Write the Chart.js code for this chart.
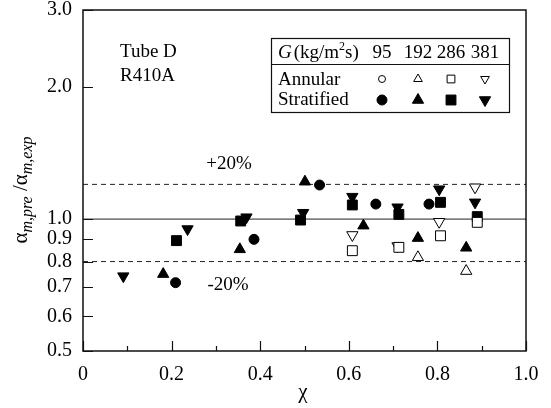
<!DOCTYPE html>
<html>
<head>
<meta charset="utf-8">
<script src="https://cdn.jsdelivr.net/npm/chart.js@4.4.0/dist/chart.umd.min.js"></script>
<style>
  html, body { margin: 0; padding: 0; background: #fff; }
  #wrap { width: 551px; height: 408px; }
</style>
</head>
<body>
<div id="wrap"><canvas id="chart" width="551" height="408"></canvas></div>
<script>
// ===== Data =====
const massFluxes = [95, 192, 286, 381];
const xTicks = [0, 0.1, 0.2, 0.3, 0.4, 0.5, 0.6, 0.7, 0.8, 0.9, 1.0];
const yTicks = [0.5, 0.6, 0.7, 0.8, 0.9, 1.0, 2.0, 3.0];
const refLevels = [1.2, 1.0, 0.8];

// stratified (filled)
const strat95X = [0.209, 0.386, 0.534, 0.661, 0.781];
const strat95Y = [0.716, 0.899, 1.196, 1.082, 1.082];
const strat192X = [0.181, 0.354, 0.501, 0.633, 0.756, 0.865];
const strat192Y = [0.749, 0.853, 1.217, 0.966, 0.905, 0.860];
const strat286X = [0.211, 0.356, 0.491, 0.608, 0.713, 0.807, 0.890];
const strat286Y = [0.893, 0.990, 0.995, 1.077, 1.025, 1.092, 1.013];
const strat381X = [0.091, 0.236, 0.369, 0.497, 0.608, 0.710, 0.804, 0.885];
const strat381Y = [0.741, 0.949, 1.010, 1.034, 1.125, 1.064, 1.170, 1.092];

// annular (open)
const ann95X = [];
const ann95Y = [];
const ann192X = [0.756, 0.865];
const ann192Y = [0.818, 0.761];
const ann286X = [0.608, 0.713, 0.807, 0.890];
const ann286Y = [0.847, 0.862, 0.916, 0.983];
const ann381X = [0.608, 0.710, 0.804, 0.885];
const ann381Y = [0.920, 0.868, 0.986, 1.182];

const serif = "'Liberation Serif', 'DejaVu Serif', serif";

const pts = (xs, ys) => xs.map((x, i) => ({ x: x, y: ys[i] }));

// marker styles per mass flux
const markers = [
  { pointStyle: 'circle', radius: 5, rotation: 0 },
  { pointStyle: 'triangle', radius: 6.5, rotation: 0 },
  { pointStyle: 'rect', radius: 7, rotation: 0 },
  { pointStyle: 'triangle', radius: 6.5, rotation: 180 }
];

function markerSet(label, data, m, filled) {
  return {
    type: 'scatter',
    label: label,
    data: data,
    pointStyle: m.pointStyle,
    pointRadius: m.radius,
    pointRotation: m.rotation,
    pointBackgroundColor: filled ? '#000' : '#fff',
    pointBorderColor: '#000',
    pointBorderWidth: 1,
    order: 0
  };
}

const annular = [pts(ann95X, ann95Y), pts(ann192X, ann192Y), pts(ann286X, ann286Y), pts(ann381X, ann381Y)];
const stratified = [pts(strat95X, strat95Y), pts(strat192X, strat192Y), pts(strat286X, strat286Y), pts(strat381X, strat381Y)];

const datasets = [];
refLevels.forEach(lvl => {
  datasets.push({
    type: 'line',
    label: 'ref ' + lvl,
    data: [{ x: 0, y: lvl }, { x: 1, y: lvl }],
    borderColor: '#222',
    borderWidth: 1,
    borderDash: lvl === 1.0 ? [] : [5, 4],
    pointRadius: 0,
    order: 10
  });
});
massFluxes.forEach((g, i) => {
  datasets.push(markerSet('Annular ' + g, annular[i], markers[i], false));
  datasets.push(markerSet('Stratified ' + g, stratified[i], markers[i], true));
});

// ===== Frame, inward ticks, texts, legend table =====
const decorPlugin = {
  id: 'decor',
  afterDraw(chart) {
    const { ctx, chartArea: a, scales: { x, y } } = chart;
    ctx.save();
    ctx.strokeStyle = '#111';
    ctx.lineWidth = 1.5;
    ctx.strokeRect(a.left, a.top, a.right - a.left, a.bottom - a.top);

    ctx.lineWidth = 1.2;
    ctx.beginPath();
    xTicks.forEach((v, i) => {
      const px = Math.round(x.getPixelForValue(v)) + 0.5;
      const len = i % 2 === 0 ? 10 : 5;
      ctx.moveTo(px, a.bottom);
      ctx.lineTo(px, a.bottom - len);
    });
    yTicks.forEach(v => {
      const py = Math.round(y.getPixelForValue(v)) + 0.5;
      ctx.moveTo(a.left, py);
      ctx.lineTo(a.left + 10, py);
    });
    ctx.stroke();

    ctx.fillStyle = '#000';
    ctx.textBaseline = 'alphabetic';
    ctx.textAlign = 'left';
    ctx.font = '19px ' + serif;
    ctx.fillText('Tube D', 120, 57);
    ctx.fillText('R410A', 120, 81);

    ctx.textAlign = 'center';
    ctx.fillText('+20%', 229, 169);
    ctx.fillText('-20%', 228, 290);

    ctx.font = '21px ' + serif;
    ctx.fillText('\u03c7', 303, 398);

    // y title with subscripts
    ctx.save();
    ctx.translate(27, 190);
    ctx.rotate(-Math.PI / 2);
    const parts = [
      { t: '\u03b1', f: '21px ' + serif, dy: 0 },
      { t: 'm,pre', f: 'italic 16px ' + serif, dy: 5 },
      { t: ' /\u03b1', f: '21px ' + serif, dy: 0 },
      { t: 'm,exp', f: 'italic 16px ' + serif, dy: 5 }
    ];
    let total = 0;
    parts.forEach(p => { ctx.font = p.f; p.w = ctx.measureText(p.t).width; total += p.w; });
    let cx = -total / 2;
    ctx.textAlign = 'left';
    parts.forEach(p => { ctx.font = p.f; ctx.fillText(p.t, cx, p.dy); cx += p.w; });
    ctx.restore();

    // legend table
    const bx = 271, by = 38, bw = 238, bh = 74;
    ctx.lineWidth = 1.2;
    ctx.strokeStyle = '#111';
    ctx.strokeRect(bx + 0.5, by + 0.5, bw, bh);
    ctx.beginPath();
    ctx.moveTo(bx, by + 26.5);
    ctx.lineTo(bx + bw, by + 26.5);
    ctx.stroke();

    ctx.textAlign = 'left';
    ctx.font = 'italic 19px ' + serif;
    ctx.fillText('G', 278, 58);
    let hx = 278 + ctx.measureText('G').width + 2;
    ctx.font = '19px ' + serif;
    ctx.fillText('(kg/m', hx, 58);
    hx += ctx.measureText('(kg/m').width;
    ctx.font = '12px ' + serif;
    ctx.fillText('2', hx, 50);
    hx += ctx.measureText('2').width;
    ctx.font = '19px ' + serif;
    ctx.fillText('s)', hx, 58);

    const colX = [382, 418, 451, 485];
    ctx.textAlign = 'center';
    massFluxes.forEach((g, i) => ctx.fillText(String(g), colX[i], 58));

    ctx.textAlign = 'left';
    ctx.fillText('Annular', 278, 85);
    ctx.fillText('Stratified', 278, 105);

    const smallR = [3.5, 5, 5.5, 5];
    massFluxes.forEach((g, i) => {
      const m = markers[i];
      ctx.lineWidth = 1;
      ctx.strokeStyle = '#000';
      ctx.fillStyle = '#fff';
      Chart.helpers.drawPoint(ctx, { pointStyle: m.pointStyle, radius: smallR[i], rotation: m.rotation, borderWidth: 1 }, colX[i], 79);
      ctx.fillStyle = '#000';
      Chart.helpers.drawPoint(ctx, { pointStyle: m.pointStyle, radius: m.radius, rotation: m.rotation, borderWidth: 1 }, colX[i], 100);
    });
    ctx.restore();
  }
};

new Chart(document.getElementById('chart'), {
  data: { datasets: datasets },
  options: {
    responsive: false,
    animation: false,
    layout: { padding: { top: 10, right: 25, left: 0, bottom: 0 } },
    plugins: { legend: { display: false }, tooltip: { enabled: false } },
    scales: {
      x: {
        type: 'linear',
        min: 0,
        max: 1,
        grid: { display: false, drawTicks: false },
        border: { display: false },
        afterBuildTicks: s => { s.ticks = xTicks.map(v => ({ value: v })); },
        afterFit: s => { s.height = 57; s.paddingLeft = 0; s.paddingRight = 0; },
        ticks: {
          autoSkip: false,
          maxRotation: 0,
          padding: 12,
          color: '#000',
          font: { family: serif, size: 20 },
          callback: (v, i) => (i % 2 === 0 ? (v === 0 ? '0' : v.toFixed(1)) : '')
        }
      },
      y: {
        type: 'logarithmic',
        min: 0.5,
        max: 3,
        grid: { display: false, drawTicks: false },
        border: { display: false },
        afterBuildTicks: s => { s.ticks = yTicks.map(v => ({ value: v })); },
        afterFit: s => { s.width = 83; s.paddingTop = 0; s.paddingBottom = 0; },
        ticks: {
          autoSkip: false,
          padding: 11,
          color: '#000',
          font: { family: serif, size: 20 },
          callback: v => Number(v).toFixed(1)
        }
      }
    }
  },
  plugins: [decorPlugin]
});
</script>
</body>
</html>
